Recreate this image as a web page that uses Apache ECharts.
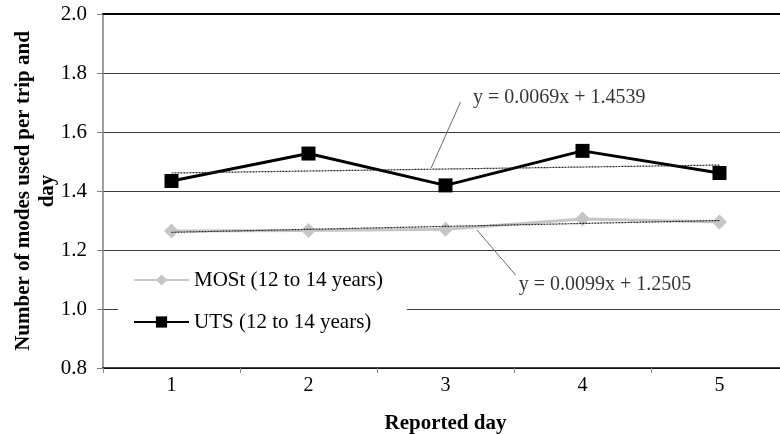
<!DOCTYPE html>
<html>
<head>
<meta charset="utf-8">
<script src="https://cdn.jsdelivr.net/npm/echarts@6/dist/echarts.min.js"></script>
<style>
  html, body { margin: 0; padding: 0; background: #fff; }
  #chart { width: 780px; height: 435px; }
</style>
</head>
<body>
<div id="chart"></div>
<script>
const days = ['1', '2', '3', '4', '5']
const most = [1.264, 1.266, 1.27, 1.305, 1.295]
const uts = [1.434, 1.527, 1.419, 1.536, 1.461]

// trendline end values at day 1 and day 5
const mostTrend = [1.260, 1.300]
const utsTrend = [1.461, 1.488]

// equation labels and their leader lines, in data units (x on a 0.5..5.5 scale)
const utsEquation = 'y = 0.0069x + 1.4539'
const mostEquation = 'y = 0.0099x + 1.2505'
const utsLeader = [[3.11, 1.702], [2.895, 1.478]]
const mostLeader = [[3.229, 1.268], [3.512, 1.115]]
const utsLabelAt = [3.2, 1.715]
const mostLabelAt = [3.535, 1.081]

const font = '"Liberation Serif", "Times New Roman", serif'

const chart = echarts.init(document.getElementById('chart'))

const leader = (pts) => ({
  type: 'line',
  xAxisIndex: 1,
  data: pts,
  symbol: 'none',
  silent: true,
  lineStyle: { color: '#6b6b6b', width: 1 },
  z: 1
})

const eqLabel = (pt, text) => ({
  type: 'scatter',
  xAxisIndex: 1,
  data: [pt],
  symbolSize: 0,
  silent: true,
  label: {
    show: true, position: 'right', distance: 0,
    formatter: text,
    fontFamily: font, fontSize: 20, color: '#000'
  }
})

chart.setOption({
  animation: false,
  grid: { left: 103, right: -8, top: 14, bottom: 67, outerBoundsMode: 'none', containLabel: false },
  legend: {
    orient: 'vertical',
    left: 118, top: 254,
    backgroundColor: '#fff',
    padding: [15, 24, 12, 15],
    itemWidth: 55, itemHeight: 14, itemGap: 20,
    textStyle: { fontFamily: font, fontSize: 21, color: '#000', lineHeight: 22 },
    data: ['MOSt (12 to 14 years)', 'UTS (12 to 14 years)']
  },
  xAxis: [
    {
      type: 'category',
      data: days,
      name: 'Reported day',
      nameLocation: 'middle',
      nameGap: 45,
      nameTextStyle: { fontFamily: font, fontSize: 21, fontWeight: 'bold', color: '#000' },
      axisLine: { lineStyle: { color: '#000', width: 1.5 } },
      axisTick: { show: true, length: 5, lineStyle: { color: '#8a8a8a' } },
      axisLabel: { fontFamily: font, fontSize: 20, color: '#000', margin: 8 },
      splitLine: { show: false }
    },
    {
      type: 'value',
      min: 0.5, max: 5.5,
      show: false
    },
    {
      type: 'category',
      position: 'top',
      data: days,
      axisLine: { show: true, lineStyle: { color: '#000', width: 2 } },
      axisTick: { show: false },
      axisLabel: { show: false }
    }
  ],
  yAxis: {
    type: 'value',
    min: 0.8, max: 2.0, interval: 0.2,
    name: 'Number of modes used per trip and\nday',
    nameLocation: 'middle',
    nameGap: 43,
    nameMoveOverlap: false,
    nameTextStyle: { fontFamily: font, fontSize: 21, fontWeight: 'bold', color: '#000', lineHeight: 24 },
    axisLine: { show: true, lineStyle: { color: '#7f7f7f', width: 1.5 } },
    axisTick: { show: true, length: 6, lineStyle: { color: '#7f7f7f' } },
    axisLabel: {
      fontFamily: font, fontSize: 21, color: '#000', margin: 16,
      formatter: (v) => v.toFixed(1)
    },
    splitLine: { show: true, lineStyle: { color: '#3c3c3c', width: 1 } }
  },
  series: [
    {
      name: 'MOSt (12 to 14 years)',
      type: 'line',
      data: most,
      symbol: 'diamond',
      symbolSize: 15,
      lineStyle: { color: '#c6c6c6', width: 3 },
      itemStyle: { color: '#c6c6c6' },
      z: 3
    },
    {
      name: 'UTS (12 to 14 years)',
      type: 'line',
      data: uts,
      symbol: 'rect',
      symbolSize: 14,
      lineStyle: { color: '#000', width: 3 },
      itemStyle: { color: '#000' },
      z: 3
    },
    {
      name: 'MOSt trend',
      type: 'line',
      data: [[days[0], mostTrend[0]], [days[4], mostTrend[1]]],
      symbol: 'none',
      lineStyle: { color: '#222', width: 1.2, type: [2, 1] },
      z: 4
    },
    {
      name: 'UTS trend',
      type: 'line',
      data: [[days[0], utsTrend[0]], [days[4], utsTrend[1]]],
      symbol: 'none',
      lineStyle: { color: '#222', width: 1.2, type: [2, 1] },
      z: 4
    },
    leader(utsLeader),
    leader(mostLeader),
    eqLabel(utsLabelAt, utsEquation),
    eqLabel(mostLabelAt, mostEquation)
  ]
})
</script>
</body>
</html>
